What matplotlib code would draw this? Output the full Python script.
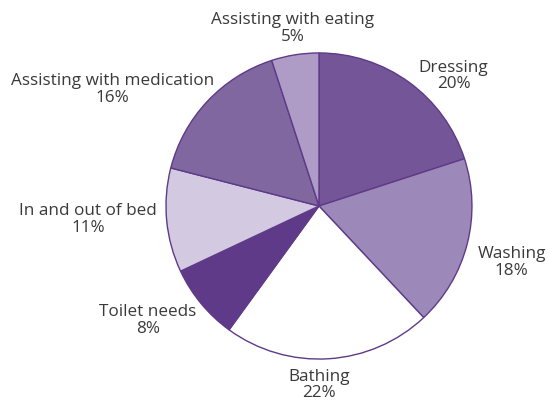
import matplotlib.pyplot as plt

# care tasks, clockwise from 12 o'clock
tasks = ['Dressing', 'Washing', 'Bathing', 'Toilet needs', 'In and out of bed',
         'Assisting with medication', 'Assisting with eating']
shares = [20, 18, 22, 8, 11, 16, 5]
colors = ['#745598', '#9d89b9', '#ffffff', '#5e3a88', '#d3c9e0', '#8067a0', '#ae9cc6']

# label centres in units of the pie radius
label_xy = [(0.88, 0.85), (1.26, -0.37), (0.0, -1.17), (-1.12, -0.75),
            (-1.51, -0.09), (-1.35, 0.76), (-0.17, 1.16)]

fig = plt.figure(figsize=(5.48, 4.12), dpi=100)
ax = fig.add_axes([0, 0, 1, 1])
ax.pie(shares, colors=colors, startangle=90, counterclock=False, radius=1,
       wedgeprops=dict(edgecolor='#5e3a88', linewidth=1.0))
ax.set_xlim(-2.085, 1.497)
ax.set_ylim(-1.346, 1.346)
ax.set_aspect('auto')
ax.axis('off')

for name, val, (x, y) in zip(tasks, shares, label_xy):
    ax.text(x, y, f'{name}\n{val}%', ha='center', va='center', multialignment='center',
            fontsize=12.3, family='Open Sans', color='#3a3a3a', linespacing=1.05)

fig.savefig('out.png', dpi=100)
